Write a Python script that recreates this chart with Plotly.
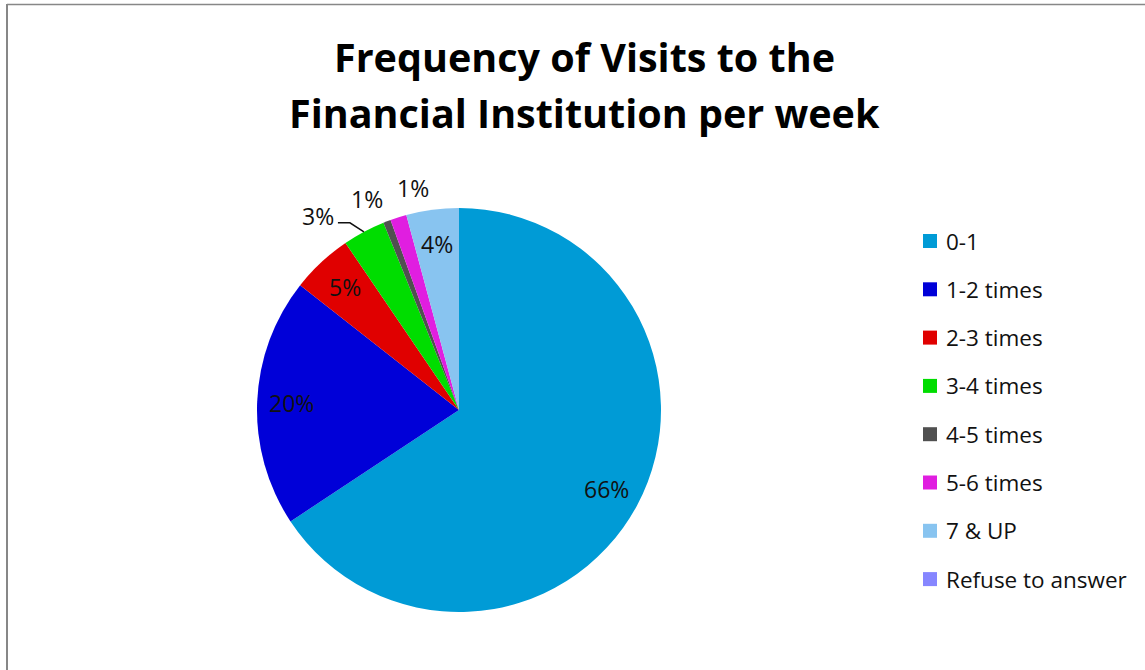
import math
import plotly.graph_objects as go

W, H = 1145, 670

# Survey answers: share of respondents (%) by weekly visits
categories = ["0-1", "1-2 times", "2-3 times", "3-4 times", "4-5 times",
              "5-6 times", "7 & UP", "Refuse to answer"]
shares = [65.7, 19.9, 4.9, 3.4, 0.6, 1.3, 4.2, 0.0]
colors = ["#009BD6", "#0000D8", "#E00000", "#00DD00", "#505050",
          "#E01EE0", "#88C4F0", "#8686FF"]

title_lines = ["Frequency of Visits to the", "Financial Institution per week"]

# Pie geometry in pixels
CX, CY, R = 459, 410, 202

# Slices whose labels sit outside the pie: (label offset dx, dy, leader line)
outside = {3: (-46, -16, True), 4: (-20, -22, False), 5: (15, -29, False)}


def px(x):
    return x / W


def py(y):
    return 1 - y / H


FONT = "'Open Sans', Lato, sans-serif"

fig = go.Figure(go.Pie(
    labels=categories,
    values=shares,
    sort=False,
    direction="clockwise",
    rotation=0,
    marker=dict(colors=colors, line=dict(width=0)),
    textinfo="none",
    hoverinfo="label+percent",
    showlegend=False,
    domain=dict(x=[px(CX - R), px(CX + R)], y=[py(CY + R), py(CY - R)]),
))

annotations = []
shapes = []


def label(x, y, text, size, **kw):
    opts = dict(x=px(x), y=py(y), xref="paper", yref="paper", text=text,
                showarrow=False, xanchor="center", yanchor="middle",
                font=dict(family=FONT, size=size, color="#111"))
    opts.update(kw)
    annotations.append(opts)


# Percentage labels placed from each slice's mid-angle
total = sum(shares)
cum = 0.0
for i, v in enumerate(shares):
    start = cum
    cum += v
    if v <= 0:
        continue
    mid = math.radians((start + cum) / 2 / total * 360)
    pct = f"{round(v / total * 100):.0f}%"
    if i in outside:
        dx, dy, leader = outside[i]
        ex, ey = CX + R * math.sin(mid), CY - R * math.cos(mid)
        lx, ly = ex + dx, ey + dy
        label(lx, ly, pct, 23)
        if leader:
            sx = lx + 20
            sy = ey - 9
            shapes.append(dict(type="path", xref="paper", yref="paper",
                               path=f"M {px(sx)} {py(sy)} L {px(sx + 12)} {py(sy)} L {px(ex)} {py(ey)}",
                               line=dict(color="#111", width=1.5)))
    else:
        rr = 0.83 * R
        label(CX + rr * math.sin(mid), CY - rr * math.cos(mid), pct, 23)

# Legend: colour squares with category names
LEG_X, LEG_Y0, LEG_DY, SQ = 923, 241, 48.3, 14
for i, (name, col) in enumerate(zip(categories, colors)):
    yc = LEG_Y0 + i * LEG_DY
    shapes.append(dict(type="rect", xref="paper", yref="paper",
                       x0=px(LEG_X), x1=px(LEG_X + SQ),
                       y0=py(yc + SQ / 2), y1=py(yc - SQ / 2),
                       fillcolor=col, line=dict(width=0)))
    label(LEG_X + SQ + 7, yc, name, 22.5, xanchor="left")

# Two-line bold title
for j, line in enumerate(title_lines):
    label(584, 57 + j * 56, f"<b>{line}</b>", 39.5,
          font=dict(family=FONT, size=39.5, color="#000"))

# Chart frame (top and left edges)
shapes.append(dict(type="line", xref="paper", yref="paper",
                   x0=px(7), x1=1.0, y0=py(4.5), y1=py(4.5),
                   line=dict(color="#878787", width=1.5)))
shapes.append(dict(type="line", xref="paper", yref="paper",
                   x0=px(7), x1=px(7), y0=py(4), y1=0.0,
                   line=dict(color="#878787", width=2)))

fig.update_layout(
    width=W, height=H,
    margin=dict(l=0, r=0, t=0, b=0),
    paper_bgcolor="white",
    plot_bgcolor="white",
    annotations=annotations,
    shapes=shapes,
)

fig.write_html("out.html")
